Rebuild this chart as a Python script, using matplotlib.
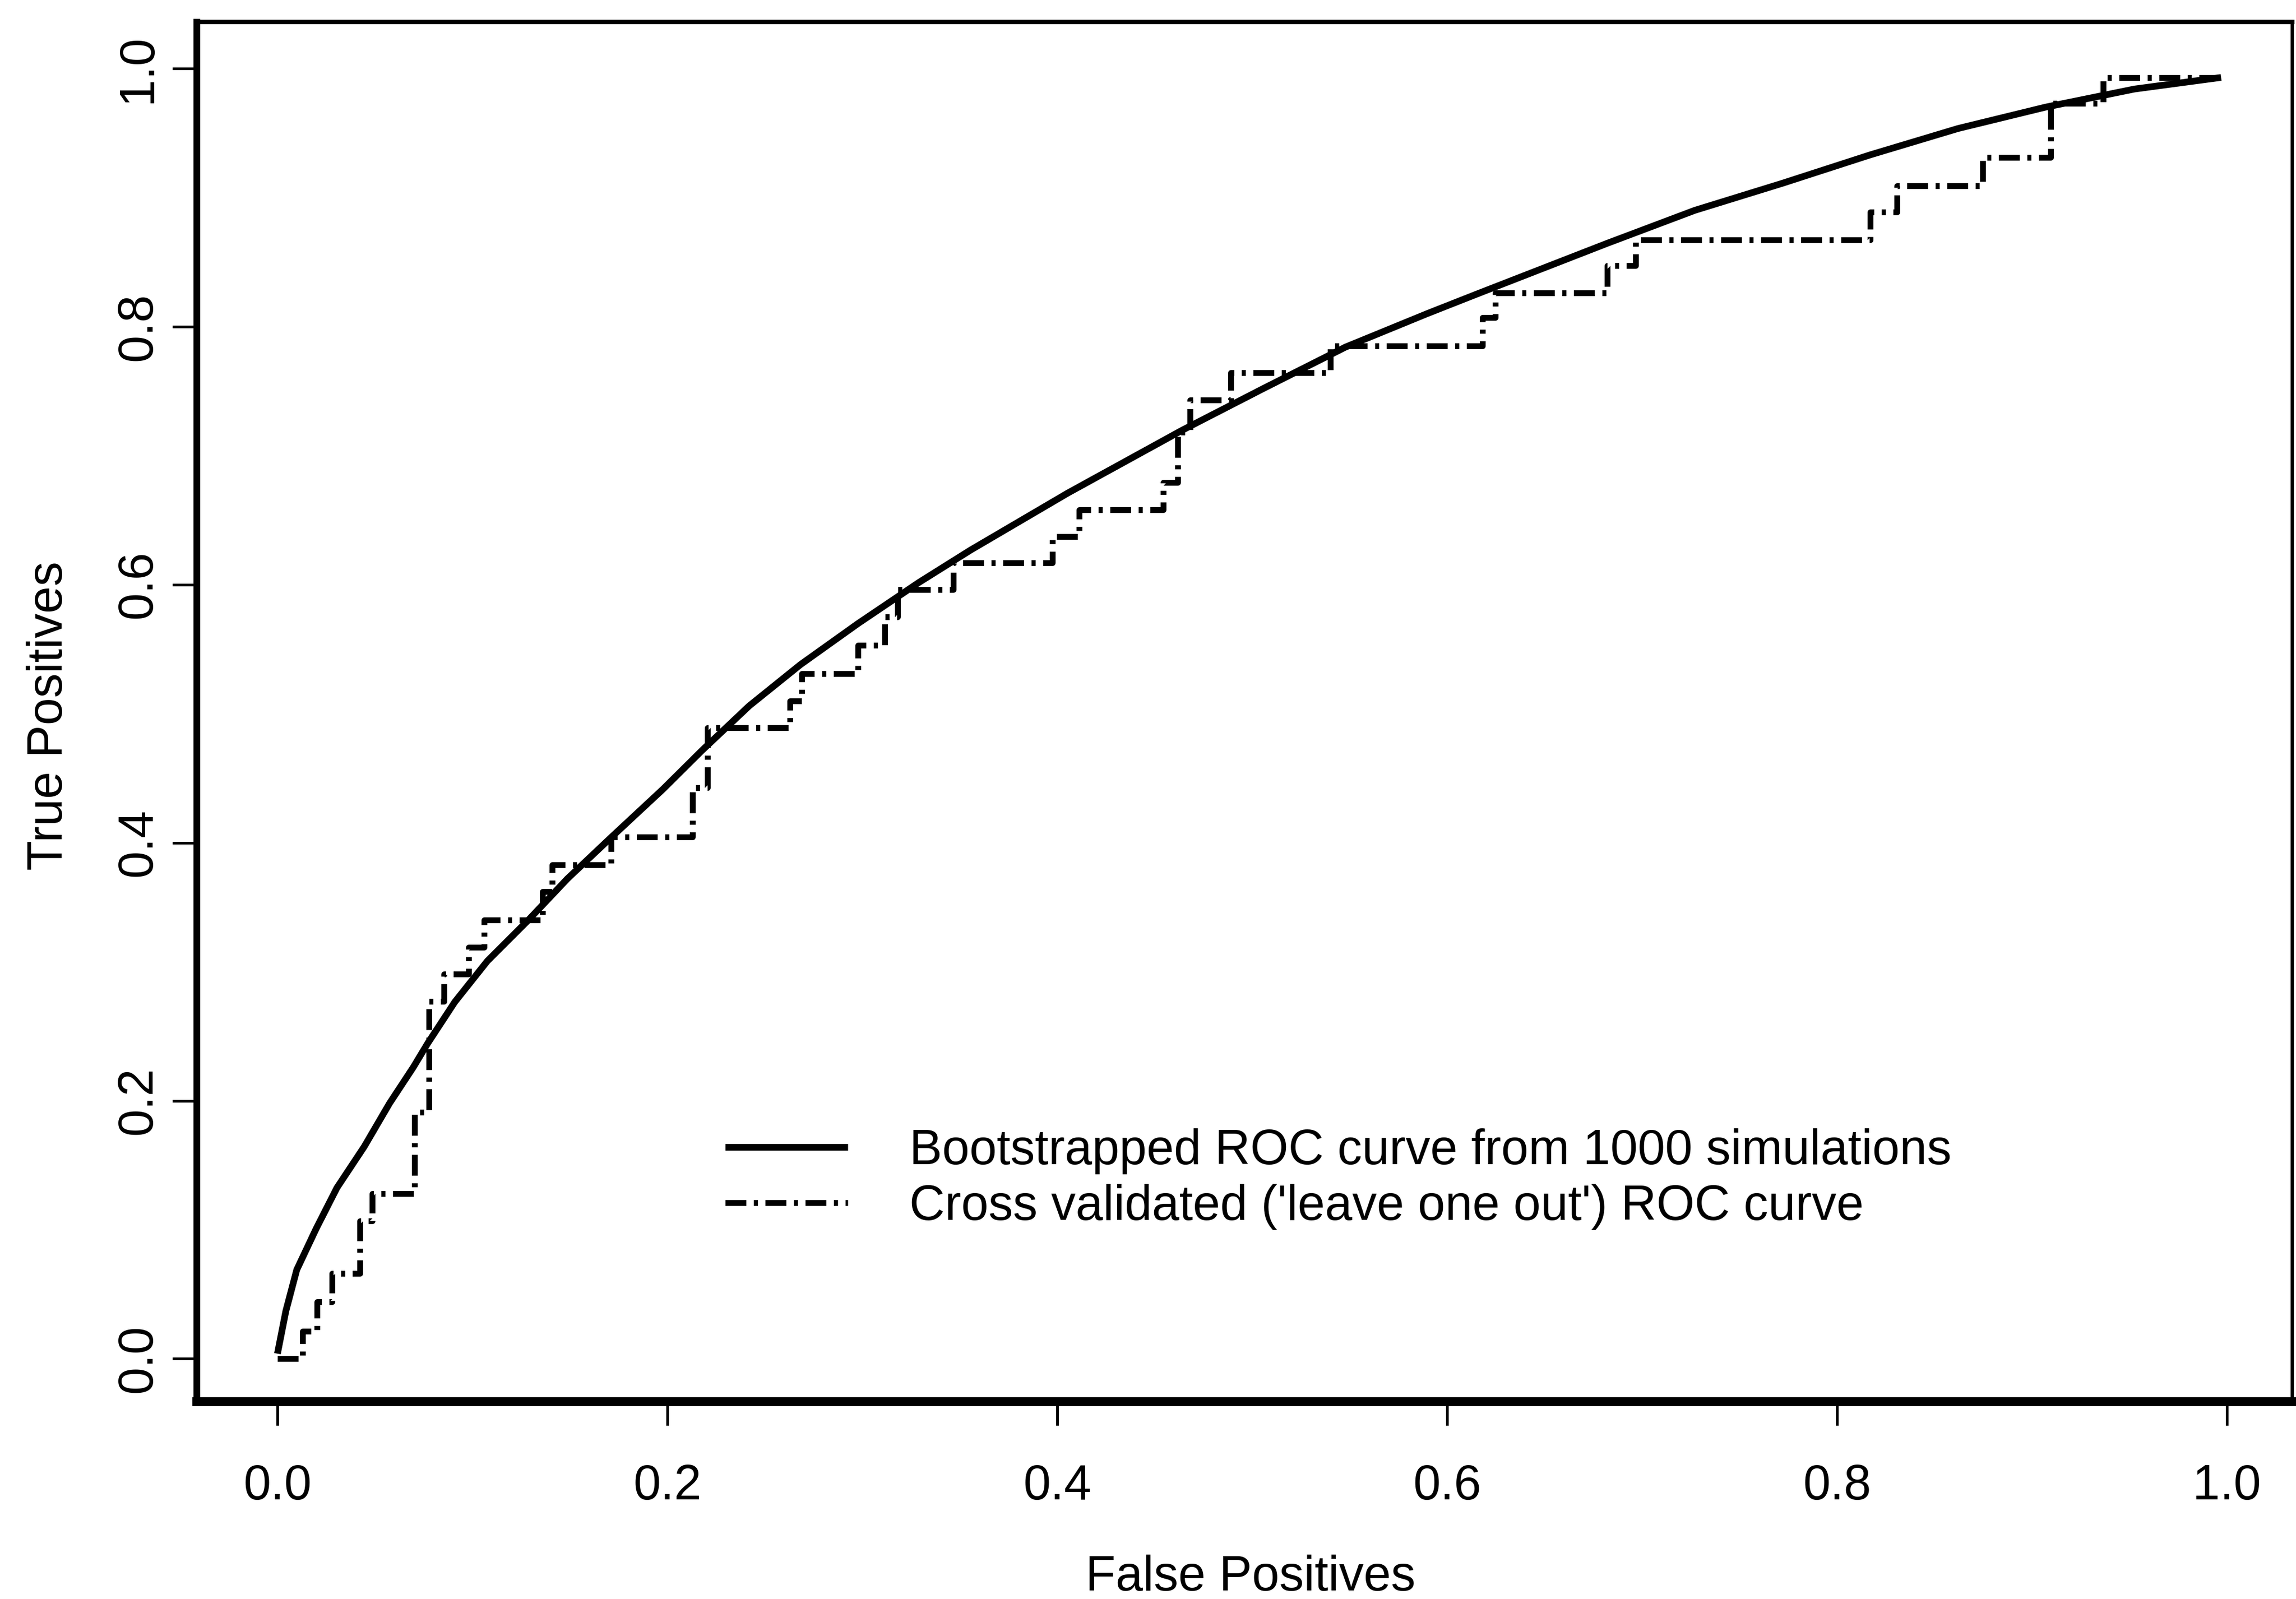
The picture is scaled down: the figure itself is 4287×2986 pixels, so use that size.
import matplotlib
matplotlib.use("Agg")
import matplotlib.pyplot as plt

plt.rcParams['font.family'] = ['Liberation Sans', 'DejaVu Sans']

# Bootstrapped ROC curve (smooth)
fpr_boot = [0.0, 0.0043, 0.0099, 0.0198, 0.0305, 0.0445, 0.0575, 0.0697, 0.0772,
            0.091, 0.1077, 0.1287, 0.1487, 0.1709, 0.1978, 0.2178, 0.242,
            0.2683, 0.2977, 0.329, 0.3555, 0.4055, 0.4637, 0.5058, 0.5478,
            0.5898, 0.615, 0.682, 0.727, 0.772, 0.817, 0.862, 0.907, 0.9525,
            0.997]
tpr_boot = [0.004, 0.037, 0.069, 0.1007, 0.1325, 0.1644, 0.198, 0.226, 0.2448,
            0.2766, 0.3083, 0.340, 0.372, 0.4037, 0.4415, 0.4715, 0.506,
            0.538, 0.5697, 0.6016, 0.6267, 0.671, 0.7193, 0.752, 0.784,
            0.810, 0.825, 0.8644, 0.890, 0.911, 0.933, 0.9534, 0.970, 0.984,
            0.993]

# Cross validated (leave one out) ROC curve: step corners (jump x, new level)
fpr_cv = [0.0, 0.0130, 0.0204, 0.028, 0.0424, 0.0487, 0.0702, 0.0776, 0.0855,
          0.098, 0.106, 0.136, 0.141, 0.171, 0.2128, 0.2206, 0.263, 0.269,
          0.2977, 0.3116, 0.318, 0.3467, 0.3975, 0.4113, 0.4543, 0.4617, 0.468,
          0.489, 0.540, 0.618, 0.6246, 0.682, 0.6966, 0.817, 0.8307, 0.8747,
          0.9097, 0.9366, 0.997]
tpr_cv = [0.0, 0.0213, 0.044, 0.066, 0.107, 0.128, 0.191, 0.277, 0.298,
          0.319, 0.340, 0.362, 0.383, 0.4044, 0.4426, 0.489, 0.510, 0.531,
          0.553, 0.575, 0.596, 0.617, 0.637, 0.658, 0.679, 0.718, 0.743,
          0.764, 0.785, 0.807, 0.826, 0.847, 0.867, 0.8885, 0.909, 0.931,
          0.973, 0.993, 0.993]

ticks = [0.0, 0.2, 0.4, 0.6, 0.8, 1.0]
tick_labels = ["0.0", "0.2", "0.4", "0.6", "0.8", "1.0"]
labels = ["Bootstrapped ROC curve from 1000 simulations",
          "Cross validated ('leave one out') ROC curve"]

W, H = 4287, 2986
fig = plt.figure(figsize=(W / 300, H / 300), dpi=300)
ax = fig.add_axes([367 / W, 1 - 2617 / H, 3913 / W, 2576 / H])

ax.plot(fpr_boot, tpr_boot, color='black', lw=3.0, solid_capstyle='butt',
        solid_joinstyle='round', label=labels[0])
ax.plot(fpr_cv, tpr_cv, color='black', lw=2.6, drawstyle='steps-post',
        linestyle=(0, (3.6, 1.3, 0.7, 1.3)), dash_capstyle='butt',
        label=labels[1])

ax.set_xlim(-0.0415, 1.0335)
ax.set_ylim(-0.033, 1.036)
ax.set_xticks(ticks)
ax.set_xticklabels(tick_labels)
ax.set_yticks(ticks)
ax.set_yticklabels(tick_labels, rotation=90, va='center')

ax.tick_params(direction='out', length=10.8, width=1.2, labelsize=22,
               color='black')
ax.tick_params(axis='x', pad=17)
ax.tick_params(axis='y', pad=5)

for side, lw in [('left', 3.0), ('bottom', 4.0), ('top', 2.0), ('right', 1.5)]:
    ax.spines[side].set_linewidth(lw)
    ax.spines[side].set_color('black')

ax.set_xlabel("False Positives", fontsize=22)
ax.set_ylabel("True Positives", fontsize=22)
ax.xaxis.set_label_coords(0.503, -0.111)
ax.yaxis.set_label_coords(-0.0593, 0.497)

leg = ax.legend(loc='center left', bbox_to_anchor=(1354 / W, 1 - 2202 / H),
                bbox_transform=fig.transFigure, frameon=False, fontsize=22,
                borderpad=0, borderaxespad=0, handlelength=2.5,
                handletextpad=1.25, labelspacing=0.2)

fig.savefig("out.png", dpi=300, facecolor='white')
